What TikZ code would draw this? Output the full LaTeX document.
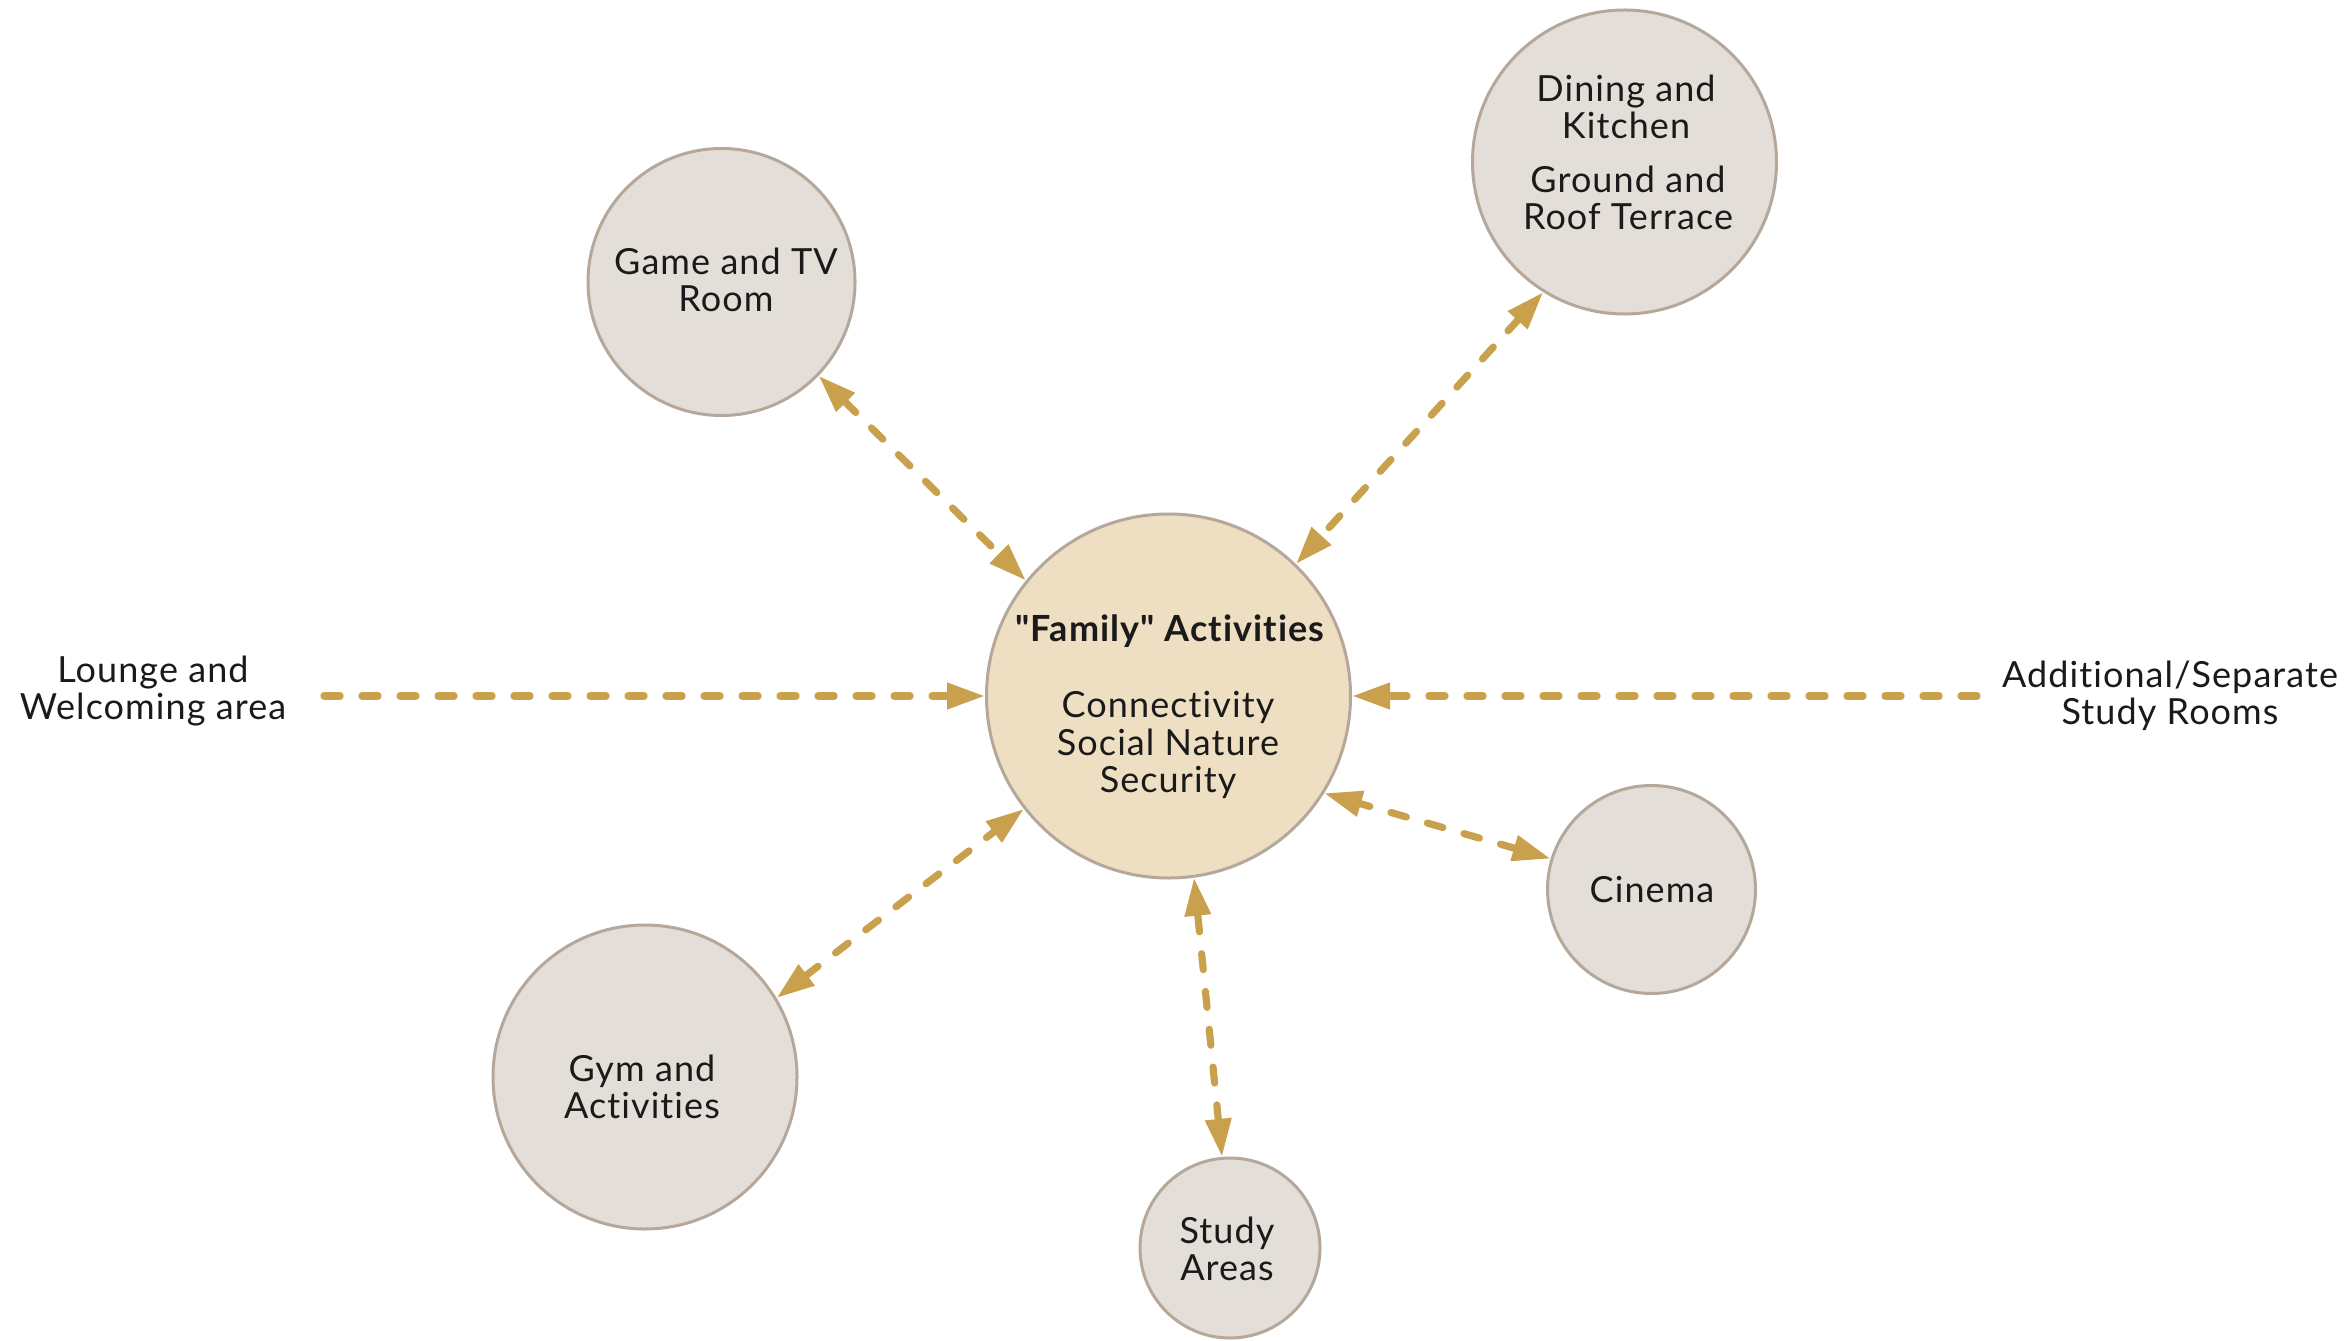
\documentclass[tikz,border=0pt]{standalone}
\usepackage{fontspec}
\setmainfont{Lato}[LetterSpace=3,Ligatures={TeXOff,NoCommon}]
\usetikzlibrary{arrows.meta}
\definecolor{arr}{HTML}{C9A14D}
\definecolor{gfill}{HTML}{E3DED8}
\definecolor{gline}{HTML}{B5A89B}
\definecolor{cfill}{HTML}{EEDFC2}
\definecolor{txt}{HTML}{1A1A1A}
\tikzset{
  room/.style={circle,draw=gline,fill=gfill,line width=1.5bp,inner sep=0pt},
  hub/.style={circle,draw=gline,fill=cfill,line width=1.5bp,inner sep=0pt},
  lbl/.style={align=center,text=txt,font=\fontsize{18bp}{18.75bp}\selectfont,inner sep=0pt},
  link/.style={draw=arr,line width=3.6bp,line cap=round,dash pattern=on 8bp off 11bp,
    {Triangle[length=19bp,width=12.5bp]}-{Triangle[length=19bp,width=12.5bp]}},
  inlink/.style={draw=arr,line width=3.6bp,line cap=round,dash pattern=on 8bp off 11bp,
    -{Triangle[length=19bp,width=12.5bp]}},
}
\begin{document}
\begin{tikzpicture}[x=0.5bp,y=-0.5bp]
\useasboundingbox (0,0) rectangle (2352,1341);
\node[hub,minimum size=182bp] (c) at (1168.5,696) {};
\node[room,minimum size=133.5bp] (game) at (721.5,282) {};
\node[room,minimum size=152bp] (dining) at (1624.5,162) {};
\node[room,minimum size=152bp] (gym) at (645,1077) {};
\node[room,minimum size=90bp] (study) at (1230,1248) {};
\node[room,minimum size=104bp] (cinema) at (1651.5,889.5) {};
\coordinate (lstart) at (324,696);
\coordinate (rstart) at (1977,696);

\node[lbl,font=\fontsize{18bp}{18.75bp}\selectfont\bfseries] (famt) at (1170,631) {"Family" Activities};
\node[lbl] (famsub) at (1168,745) {Connectivity\\Social Nature\\Security};
\node[lbl] (gamet) at (726,280) {Game and TV\\Room};
\node[lbl] (dint1) at (1626,107) {Dining and\\Kitchen};
\node[lbl] (dint2) at (1628,198) {Ground and\\Roof Terrace};
\node[lbl] (gymt) at (642,1087) {Gym and\\Activities};
\node[lbl] (studyt) at (1227,1249) {Study\\Areas};
\node[lbl] (cinemat) at (1652,890) {Cinema};
\node[lbl] (lounget) at (153,691) {Lounge and\\Welcoming area};
\node[lbl] (addt) at (2170,696) {Additional/Separate\\Study Rooms};

\draw[link] (game.-44.6) -- (c.141.3);
\draw[link] (dining.238.6) -- (c.46.3);
\draw[link] (gym.31.6) -- (c.218);
\draw[link] (study.95.7) -- (c.-82.2);
\draw[link] (cinema.163.6) -- (c.-32);
\draw[inlink] (lstart) -- (c.180);
\draw[inlink] (rstart) -- (c.0);
\end{tikzpicture}
\end{document}
